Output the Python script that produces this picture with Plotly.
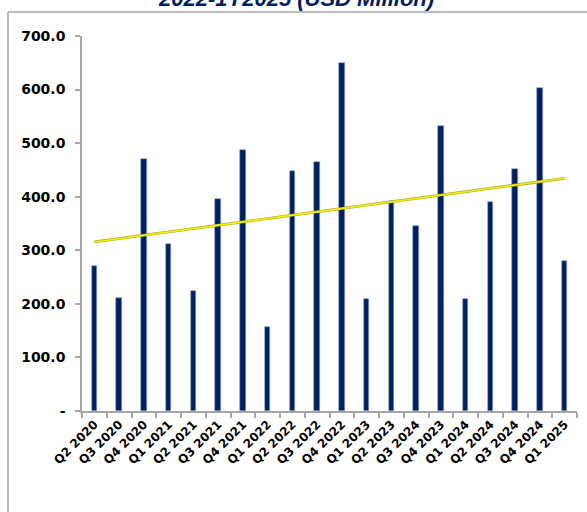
import numpy as np
import plotly.graph_objects as go

quarters = ["Q2 2020", "Q3 2020", "Q4 2020", "Q1 2021", "Q2 2021", "Q3 2021", "Q4 2021",
            "Q1 2022", "Q2 2022", "Q3 2022", "Q4 2022", "Q1 2023", "Q2 2023", "Q3 2024",
            "Q4 2023", "Q1 2024", "Q2 2024", "Q3 2024", "Q4 2024", "Q1 2025"]
values = [270, 211, 470, 312, 224, 395, 487, 157, 448, 464, 649, 209, 392, 345,
          532, 209, 390, 452, 603, 280]
y_tickvals = [0, 100, 200, 300, 400, 500, 600, 700]
y_ticktext = ["-", "100.0", "200.0", "300.0", "400.0", "500.0", "600.0", "700.0"]
title_text = "2022-1Y2025 (USD Million)"

xpos = list(range(len(quarters)))
slope, intercept = np.polyfit(xpos, values, 1)
trend = [slope * x + intercept for x in xpos]

NAVY = "#002060"
GRAY = "#A6A6A6"

fig = go.Figure()
fig.add_trace(go.Bar(
    x=xpos, y=values, width=0.22,
    marker=dict(color=NAVY, line=dict(color="#8FA3C8", width=0.6)),
    showlegend=False, hoverinfo="skip",
))
fig.add_trace(go.Scatter(
    x=[xpos[0], xpos[-1]], y=[trend[0], trend[-1]], mode="lines",
    line=dict(color="#A8A838", width=2.8), showlegend=False, hoverinfo="skip",
))
fig.add_trace(go.Scatter(
    x=[xpos[0], xpos[-1]], y=[trend[0], trend[-1]], mode="lines",
    line=dict(color="#F5F000", width=1.6), showlegend=False, hoverinfo="skip",
))

fig.update_layout(
    width=587, height=512,
    margin=dict(l=82, r=10, t=36, b=101, autoexpand=False),
    paper_bgcolor="white", plot_bgcolor="white",
    bargap=0,
    xaxis=dict(
        range=[-0.5, len(quarters) - 0.5], automargin=False,
        tickmode="array", tickvals=xpos, ticktext=quarters,
        tickangle=-45, ticks="", showgrid=False, zeroline=False,
        showline=True, linecolor=GRAY, linewidth=1.5,
        tickfont=dict(family="DejaVu Sans, sans-serif", size=12, color="#000000", weight="bold"),
        minor=dict(tick0=-0.5, dtick=1, ticks="outside", ticklen=5, tickcolor=GRAY, tickwidth=1.5, showgrid=False),
        fixedrange=True,
    ),
    yaxis=dict(
        range=[0, 700], automargin=False,
        tickmode="array", tickvals=y_tickvals, ticktext=y_ticktext,
        ticks="outside", ticklen=5, tickcolor=GRAY, tickwidth=1.5,
        showgrid=False, zeroline=False,
        showline=True, linecolor=GRAY, linewidth=1.5,
        tickfont=dict(family="DejaVu Sans, sans-serif", size=14, color="#000000", weight="bold"),
        ticklabelstandoff=7,
        fixedrange=True,
    ),
    shapes=[
        dict(type="line", xref="paper", yref="paper",
             x0=(8 - 82) / 495, x1=1.2, y0=(411 - 12) / 375, y1=(411 - 12) / 375,
             line=dict(color=GRAY, width=1.5)),
        dict(type="line", xref="paper", yref="paper",
             x0=(8 - 82) / 495, x1=(8 - 82) / 495, y0=(411 - 12) / 375, y1=-0.4,
             line=dict(color=GRAY, width=1.5)),
    ],
    annotations=[
        dict(text="<b><i>" + title_text + "</i></b>", xref="paper", yref="paper",
             x=(296 - 82) / 495, y=(411 + 1) / 375, xanchor="center", yanchor="middle",
             showarrow=False,
             font=dict(family="Liberation Sans, Arial, sans-serif", size=22, color="#002060")),
    ],
)

fig.write_html("out.html", config={"displayModeBar": False},
               post_script="document.body.style.margin='0';document.body.style.overflow='hidden';")
